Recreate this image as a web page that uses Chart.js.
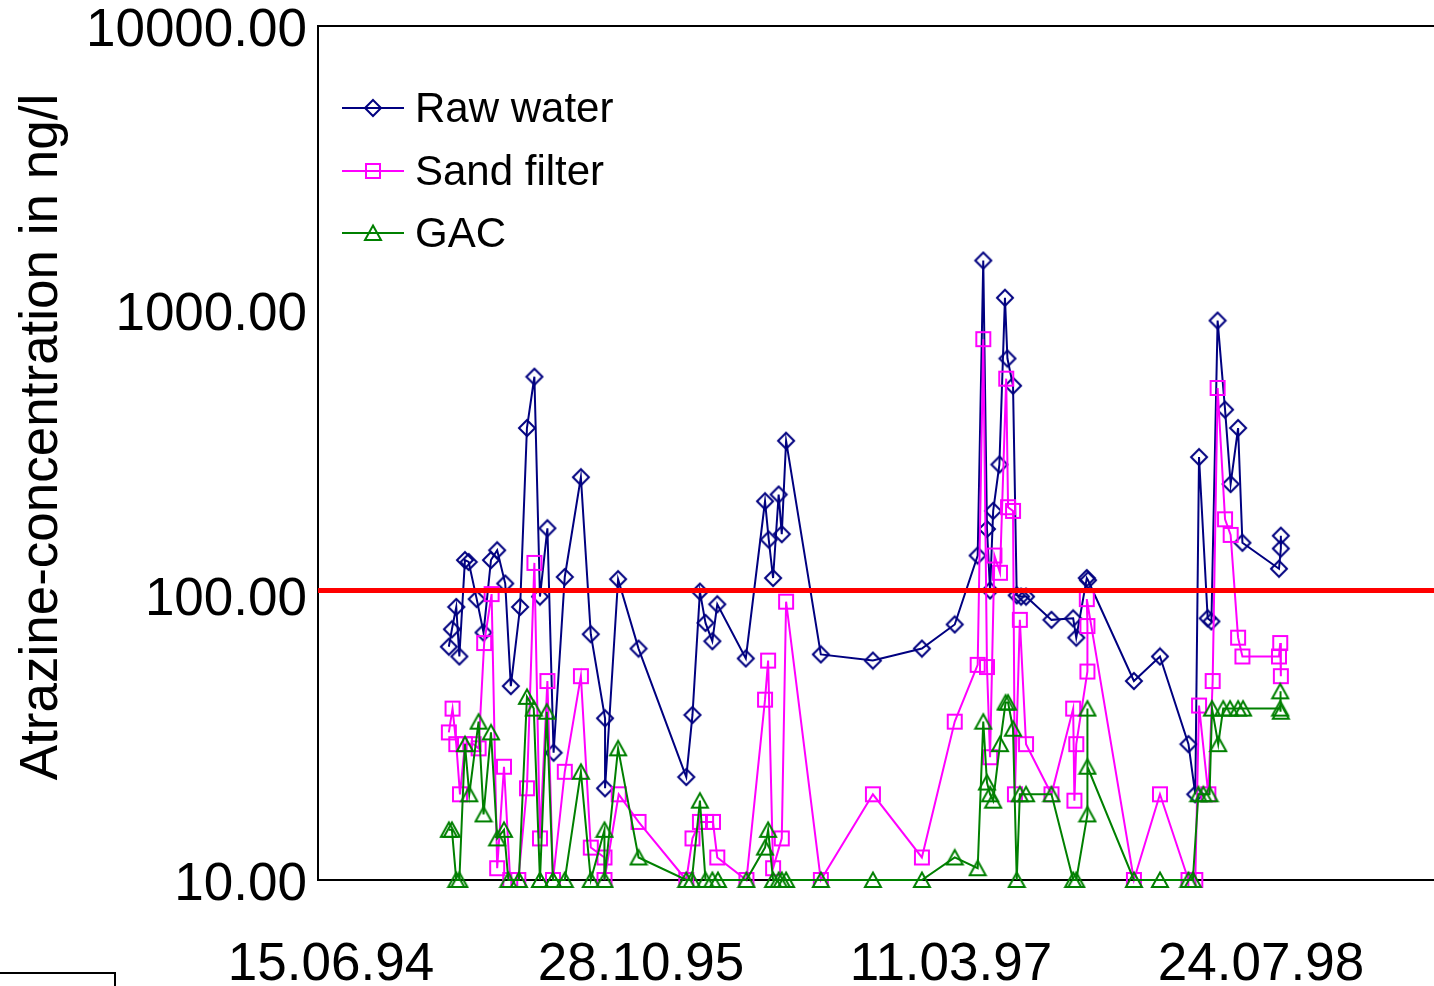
<!DOCTYPE html>
<html>
<head>
<meta charset="utf-8">
<title>Atrazine concentration</title>
<script src="https://cdn.jsdelivr.net/npm/chart.js@4.4.1/dist/chart.umd.min.js"></script>
<style>
  html, body { margin: 0; padding: 0; background: #fff; overflow: hidden; }
  #wrap { width: 1434px; height: 986px; }
</style>
</head>
<body>
<div id="wrap"><canvas id="myChart" width="1434" height="986"></canvas></div>
<script>
// sampling days, counted from 15.06.94
var rawDays = [190,195,202,207,216,222,235,246,258,268,281,290,305,316,328,337,349,359,377,403,
  419,442,442,463,496,573,583,595,604,615,623,669,700,706,713,722,727,734,790,874,
  953,1006,1043,1052,1058,1063,1068,1078,1087,1091,1100,1106,1113,1121,1162,1197,1202,1219,1221,1295,
  1337,1383,1394,1400,1414,1420,1430,1442,1451,1463,1470,1529,1532,1532];
var rawValues = [66,76,91,61,133,131,97,74,133,144,110,48,91,387,586,99,172,28,116,260,
  73,37,21,114,65,23,38,103,80,69,93,60,214,157,115,226,164,349,62,59,
  65,79,138,1500,171,104,198,288,1110,679,545,100,99,99,82,83,71,115,113,50,
  61,30,20,306,83,81,923,449,246,387,153,124,146,162];

var sandDays = [190,196,202,208,216,230,238,247,259,268,279,289,302,316,328,337,349,358,377,403,
  419,441,441,464,496,573,583,595,605,616,623,670,700,705,713,727,734,790,874,953,
  1006,1043,1052,1058,1063,1070,1079,1089,1092,1100,1103,1111,1121,1162,1197,1199,1202,1220,1220,1219,
  1295,1337,1383,1394,1400,1415,1422,1430,1442,1451,1463,1470,1529,1531,1532];
var sandValues = [33,40,30,20,30,30,29,68,101,11,25,10,10,21,130,14,50,10,24,52,
  13,12,10,20,16,10,14,16,16,16,12,10,43,59,11,14,95,10,20,12,
  36,57,794,56,27,138,120,577,204,198,20,82,30,20,40,19,30,54,78,97,
  10,20,10,10,41,20,50,535,185,163,71,61,61,68,52];

var gacDays = [190,195,202,207,216,223,238,246,258,268,279,286,303,316,327,337,348,358,377,403,
  419,441,441,463,496,573,582,595,604,615,624,670,700,705,713,722,727,734,790,874,
  953,1006,1043,1052,1058,1063,1068,1079,1088,1092,1100,1106,1111,1121,1162,1197,1202,1220,1220,1220,
  1295,1337,1383,1390,1399,1407,1417,1421,1431,1439,1450,1463,1471,1531,1531,1532];
var gacValues = [15,15,10,10,30,20,36,17,33,14,15,10,10,44,40,10,39,10,10,24,
  10,15,10,29,12,10,10,19,10,10,10,10,13,15,10,10,10,10,10,10,
  10,12,11,36,22,20,19,30,42,42,34,10,20,20,20,10,10,17,40,25,
  10,10,10,10,20,20,20,40,30,40,40,40,40,40,46,39];

var limitValue = 104;
var xTickDays = [0, 500, 1000, 1500];
var xTickLabels = ['15.06.94', '28.10.95', '11.03.97', '24.07.98'];
var yTickValues = [10, 100, 1000, 10000];
var yTitle = 'Atrazine-concentration in ng/l';

var FONT = '"Liberation Sans", Arial, Helvetica, sans-serif';
var xMin = -21, xMax = 1779;

function toPoints(days, values) {
  return days.map(function(d, i) { return { x: d, y: values[i] }; });
}

// open markers drawn on small canvases (Excel style, centred on the box)
function makeMarker(style, color) {
  var c = document.createElement('canvas');
  c.width = 20; c.height = 20;
  var g = c.getContext('2d');
  g.strokeStyle = color;
  g.lineWidth = 2;
  g.beginPath();
  if (style === 'diamond') {
    g.moveTo(10, 2); g.lineTo(18, 10); g.lineTo(10, 18); g.lineTo(2, 10); g.closePath();
  } else if (style === 'square') {
    g.rect(3, 3, 14, 14);
  } else {
    g.moveTo(10, 2.5); g.lineTo(18, 17); g.lineTo(2, 17); g.closePath();
  }
  g.stroke();
  return c;
}

var series = [
  { label: 'Raw water', color: '#000080', marker: makeMarker('diamond', '#000080') },
  { label: 'Sand filter', color: '#FF00FF', marker: makeMarker('square', '#FF00FF') },
  { label: 'GAC', color: '#008000', marker: makeMarker('triangle', '#008000') }
];

function lineDataset(s, data, order) {
  return {
    label: s.label,
    data: data,
    borderColor: s.color,
    backgroundColor: 'rgba(0,0,0,0)',
    borderWidth: 2,
    pointStyle: s.marker,
    pointRadius: 9,
    tension: 0,
    fill: false,
    clip: false,
    order: order
  };
}

var decor = {
  id: 'decor',
  afterDraw: function(chart) {
    var ctx = chart.ctx, a = chart.chartArea;
    ctx.save();
    // top frame line
    ctx.strokeStyle = '#000';
    ctx.lineWidth = 2;
    ctx.beginPath();
    ctx.moveTo(a.left - 1, a.top);
    ctx.lineTo(a.right, a.top);
    ctx.stroke();

    // legend inside the plot
    var rows = [108, 171, 233];
    ctx.font = '42px ' + FONT;
    ctx.textBaseline = 'middle';
    ctx.textAlign = 'left';
    series.forEach(function(s, i) {
      var y = rows[i];
      ctx.strokeStyle = s.color;
      ctx.lineWidth = 2;
      ctx.beginPath();
      ctx.moveTo(342, y);
      ctx.lineTo(404, y);
      ctx.stroke();
      ctx.drawImage(s.marker, 373 - 10, y - 10);
      ctx.fillStyle = '#000';
      ctx.fillText(s.label, 415, y + 2);
    });

    // small box at the lower left corner
    ctx.strokeStyle = '#000';
    ctx.lineWidth = 2;
    ctx.strokeRect(-4, 973, 119, 30);

    // y axis title
    ctx.fillStyle = '#000';
    ctx.font = '53px ' + FONT;
    ctx.textAlign = 'center';
    ctx.textBaseline = 'alphabetic';
    ctx.translate(57, 437);
    ctx.rotate(-Math.PI / 2);
    ctx.fillText(yTitle, 0, 0);
    ctx.restore();
  }
};

var ctx = document.getElementById('myChart').getContext('2d');
var myChart = new Chart(ctx, {
  type: 'line',
  data: {
    datasets: [
      {
        label: 'limit',
        data: [{ x: xMin, y: limitValue }, { x: xMax, y: limitValue }],
        borderColor: '#FF0000',
        borderWidth: 5,
        pointRadius: 0,
        fill: false,
        clip: false,
        order: 0
      },
      lineDataset(series[2], toPoints(gacDays, gacValues), 1),
      lineDataset(series[1], toPoints(sandDays, sandValues), 2),
      lineDataset(series[0], toPoints(rawDays, rawValues), 3)
    ]
  },
  options: {
    responsive: false,
    animation: false,
    events: [],
    layout: { autoPadding: false, padding: { left: 0, right: 0, top: 26, bottom: 0 } },
    plugins: { legend: { display: false }, tooltip: { enabled: false } },
    scales: {
      x: {
        type: 'linear',
        min: xMin,
        max: xMax,
        grid: { display: false, drawTicks: false },
        border: { display: true, color: '#000', width: 2 },
        afterBuildTicks: function(scale) {
          scale.ticks = xTickDays.map(function(v) { return { value: v }; });
        },
        afterFit: function(scale) {
          scale.height = 106;
          scale.paddingLeft = 0;
          scale.paddingRight = 0;
        },
        ticks: {
          autoSkip: false,
          maxRotation: 0,
          minRotation: 0,
          padding: 54,
          color: '#000',
          font: { family: FONT, size: 53, lineHeight: 1.2 },
          callback: function(value) {
            var i = xTickDays.indexOf(value);
            return i >= 0 ? xTickLabels[i] : '';
          }
        }
      },
      y: {
        type: 'logarithmic',
        min: 10,
        max: 10000,
        grid: { display: false, drawTicks: false },
        border: { display: true, color: '#000', width: 2 },
        afterBuildTicks: function(scale) {
          scale.ticks = yTickValues.map(function(v) { return { value: v }; });
        },
        afterFit: function(scale) {
          scale.width = 318;
          scale.paddingTop = 0;
          scale.paddingBottom = 0;
        },
        ticks: {
          autoSkip: false,
          padding: 11,
          labelOffset: 5,
          color: '#000',
          font: { family: FONT, size: 53, lineHeight: 1.2 },
          callback: function(value) { return Number(value).toFixed(2); }
        }
      }
    }
  },
  plugins: [decor]
});
</script>
</body>
</html>
